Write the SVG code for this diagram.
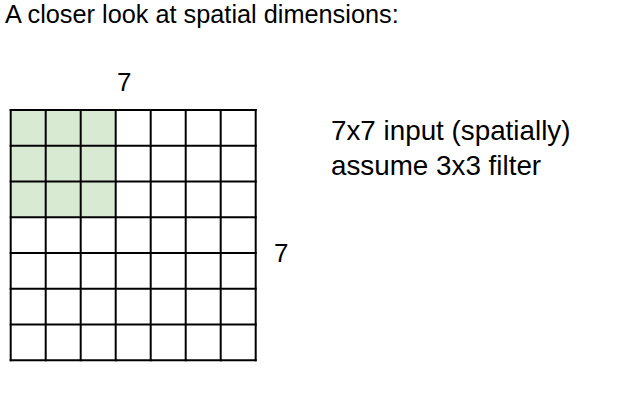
<svg xmlns="http://www.w3.org/2000/svg" width="623" height="401" viewBox="0 0 623 401">
<style>
text{font-family:"Liberation Sans",Arial,sans-serif;fill:#000}
.grid line{stroke:#000;stroke-width:2}
</style>
<rect width="623" height="401" fill="#fff"/>
<g id="title"><text x="5" y="23" font-size="25.3">A closer look at spatial dimensions:</text></g>
<g id="input-grid">
<rect x="10.7" y="110" width="105" height="107.25" fill="#d9ead3"/>
<g class="grid">
<line x1="10.7" y1="109" x2="10.7" y2="361.3"/>
<line x1="45.7" y1="109" x2="45.7" y2="361.3"/>
<line x1="80.7" y1="109" x2="80.7" y2="361.3"/>
<line x1="115.7" y1="109" x2="115.7" y2="361.3"/>
<line x1="150.7" y1="109" x2="150.7" y2="361.3"/>
<line x1="185.7" y1="109" x2="185.7" y2="361.3"/>
<line x1="220.7" y1="109" x2="220.7" y2="361.3"/>
<line x1="255.7" y1="109" x2="255.7" y2="361.3"/>
<line x1="9.7" y1="110" x2="256.7" y2="110"/>
<line x1="9.7" y1="145.75" x2="256.7" y2="145.75"/>
<line x1="9.7" y1="181.5" x2="256.7" y2="181.5"/>
<line x1="9.7" y1="217.25" x2="256.7" y2="217.25"/>
<line x1="9.7" y1="253" x2="256.7" y2="253"/>
<line x1="9.7" y1="288.75" x2="256.7" y2="288.75"/>
<line x1="9.7" y1="324.5" x2="256.7" y2="324.5"/>
<line x1="9.7" y1="360.3" x2="256.7" y2="360.3"/>
</g>
</g>
<g id="label-width"><text x="117" y="91" font-size="26">7</text></g>
<g id="label-height"><text x="274" y="262" font-size="26">7</text></g>
<g id="description">
<text x="331" y="140" font-size="27.8">7x7 input (spatially)</text>
<text x="331" y="175" font-size="27.8">assume 3x3 filter</text>
</g>
</svg>
